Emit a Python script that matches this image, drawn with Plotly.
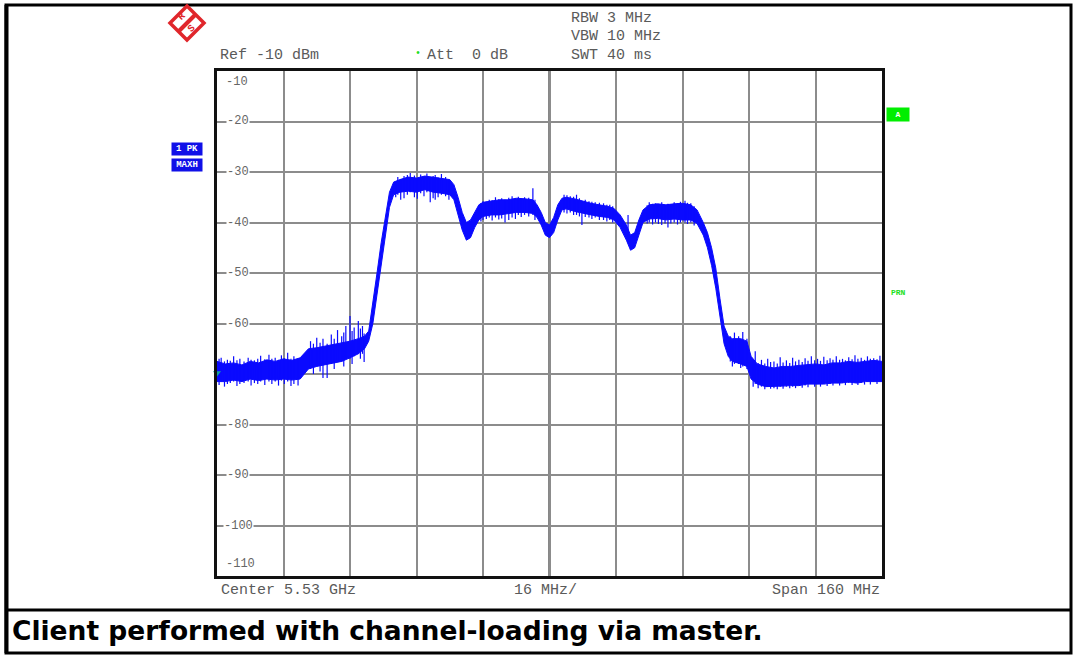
import plotly.graph_objects as go

# ---------------- data (frequency offset from 5.53 GHz centre, MHz; level dBm) ----------------
freq = [-80, -78, -76, -74, -72, -70, -68, -66, -64, -62, -60, -58, -56, -54, -52, -50, -48, -46,
        -44.5, -43.5, -42.5, -41.5, -40.5, -39.5, -38.5, -37.5, -36, -34, -32, -30, -28, -26, -24,
        -23, -22, -21, -20, -19, -18, -17, -16, -14, -12, -10, -8, -6, -4, -3, -2, -1, 0, 1, 2, 3,
        4, 6, 8, 10, 12, 14, 15.5, 17, 18.5, 19.5, 20.5, 21.5, 22.5, 24, 26, 28, 30, 32, 34, 35.5,
        37, 38, 39, 40, 41, 42, 43, 44, 46, 47.5, 48.5, 50, 52, 54, 56, 58, 60, 62, 64, 66, 68, 70,
        72, 74, 76, 78, 80]
level_max = [-67.5, -68, -67.8, -68.2, -67.5, -67.8, -67.2, -67.5, -67, -67.3, -66.8, -65, -64.8,
             -64.5, -64.2, -63.8, -63.5, -63, -62.5, -61.5, -56, -50, -44, -38.5, -34, -32, -31.5,
             -31, -31.2, -30.8, -31, -31.2, -31.5, -32.5, -35, -38, -40, -39.5, -38, -36.5, -36,
             -35.8, -35.5, -35.5, -35.2, -35.3, -35.5, -36.5, -38, -40, -40.5, -39, -36.5, -35.2,
             -35, -35.3, -35.8, -36.2, -36.5, -36.8, -37.2, -38.5, -40.5, -42.5, -42, -39.5, -37.5,
             -36.5, -36.3, -36.5, -36.3, -36.2, -36.5, -37.5, -40, -42, -45, -49, -55, -60.5,
             -62.5, -63, -63, -63.5, -66.5, -68, -68.5, -68.8, -68.5, -68.5, -68.3, -68.2, -68,
             -68.2, -67.8, -67.8, -67.5, -67.7, -67.5, -67.3, -67.5]
level_min = [-71.5, -71.5, -71.2, -71.5, -71, -71.3, -71, -71.2, -71, -71.2, -71, -69, -68.5,
             -68.2, -67.8, -67.5, -66.8, -66, -65, -63.5, -60, -54, -48, -42, -37, -34.5, -34,
             -33.8, -34, -33.5, -34, -34.2, -34.5, -35.5, -38.5, -41.5, -43.5, -43, -41, -39.5,
             -38.8, -38.5, -38.5, -38.2, -38, -38, -38.2, -39, -40.5, -42.5, -43, -42, -39.5,
             -37.5, -37.3, -37.8, -38.2, -38.5, -38.8, -39, -39.5, -41, -43.5, -45.5, -45, -42.5,
             -40, -39.3, -39.2, -39.5, -39.3, -39.5, -39.5, -40.2, -42.5, -45, -48.5, -53, -59,
             -64, -66.5, -67.5, -68, -68.5, -71, -72, -72.5, -72.5, -72.4, -72.3, -72.3, -72,
             -72, -72, -71.8, -71.8, -71.6, -71.8, -71.5, -71.5, -71.5]

# individual peak-hold spikes: frequency, bottom, top
spike_f = [-79.5, -79, -78.2, -77.5, -76.8, -76, -75.2, -74.5, -73.5, -72.5, -71.8, -71, -70.2,
           -69.5, -68.5, -67.5, -66.8, -66, -65.2, -64.5, -63.8, -63, -62.2, -61.5, -60.5,
           -57.5, -56.8, -56, -55.2, -54.5, -53.5, -52.5, -51.8, -51, -50, -49.5, -49, -48,
           -47.5, -47, -46, -45.5, -45, -44.6,
           -37, -36.5, -35.8, -35, -34.2, -33.5, -32.5, -31.8, -31, -30.2, -29.5, -28.7, -28,
           -27.5, -26.8, -26, -25, -24.2,
           -16.5, -16, -15.2, -14.5, -13.8, -13, -12.2, -11.5, -10.7, -9.8, -9, -8.2, -7.5,
           -6.8, -6, -5, -4, -3.5,
           3.5, 4.2, 5, 5.8, 6.5, 7.2, 7.8, 8.6, 9.5, 10.2, 11, 12, 13, 13.8, 14.5, 15.2, 18.9,
           23.5, 24, 24.8, 25.5, 26.2, 27, 27.8, 28.5, 29.2, 30, 30.8, 31.5, 32.6, 33.2, 34,
           34.8,
           43.5, 44, 44.5, 45.5, 46, 46.5, 47.5,
           49, 49.5, 50.2, 51, 51.8, 52.5, 53.2, 54, 54.8, 55.5, 56.2, 57, 57.8, 58.5, 59.2, 60,
           60.8, 61.5, 62.2, 63, 63.8, 64.5, 65.2, 66, 66.8, 67.5, 68.2, 69, 69.8, 70.5, 71.2,
           72, 72.8, 73.5, 74.2, 75, 75.8, 76.5, 77.2, 78, 78.8, 79.5]
spike_lo = [-72.2, -71.5, -72.5, -72, -71.8, -71.5, -72.4, -72, -71.8, -71.5, -72.3, -71.8, -72,
            -71.5, -72.2, -71.5, -72, -71.5, -72.3, -71.3, -72, -71.5, -72.4, -72, -72.3,
            -69, -70, -68.5, -69.5, -70.8, -70.8, -68, -69, -67.5, -67.5, -68.5, -67, -67,
            -68, -66.5, -66, -67, -66, -67.6,
            -35, -34.5, -35.5, -35.2, -34.5, -34, -35, -35.3, -34.2, -34.8, -34, -36, -35.2,
            -35.5, -35, -34.5, -34.8, -35.5,
            -39.8, -39.5, -39.3, -39, -39.6, -39, -39.4, -39.2, -40, -39.5, -39, -39.3, -38.5,
            -38.9, -38.5, -38.8, -38.5, -39.5,
            -38, -38.2, -38, -38.5, -38.5, -38.8, -40.5, -38.9, -39, -39.3, -39, -39.5, -39.5,
            -39.8, -39.5, -40, -44,
            -40.2, -40, -40.4, -40, -40.3, -40.5, -40.2, -41, -40.2, -40, -40.4, -40, -40,
            -40.3, -40, -40.6,
            -67.5, -68.5, -68, -68, -68.8, -68.5, -69,
            -72.5, -72, -72.8, -72.5, -73, -72.5, -72.9, -72.8, -73, -72.5, -72.9, -72.5, -72.8,
            -72.5, -72.8, -72.3, -72.7, -72.3, -72.6, -72, -72.5, -72, -72.5, -72, -72.4, -72,
            -72.3, -71.8, -72.3, -71.8, -72.2, -71.8, -72.2, -71.8, -72.2, -71.8, -72.1, -71.5,
            -72.1, -71.6, -72, -71.5]
spike_hi = [-67, -66.8, -67.5, -67.2, -67.4, -66.5, -67.3, -67, -67.5, -66.8, -67.2, -67.3, -67,
            -66.4, -67.1, -66.2, -67, -66.8, -67.2, -66.3, -66.9, -65.8, -67, -66.5, -67,
            -63.5, -64, -62.8, -63.8, -63, -64, -62.2, -63, -61.3, -62.5, -61.8, -60.5, -58.5,
            -61.5, -60.8, -59.5, -61, -60.5, -62,
            -32, -31, -31.5, -30.8, -30.6, -30.2, -30.7, -31.2, -30.5, -30.9, -30.3, -31.5,
            -30.8, -30.6, -31.1, -30.4, -31, -31.6,
            -36.2, -35.8, -35.9, -35.5, -35.6, -35, -35.4, -35.2, -35.5, -35.1, -34.8, -35.2,
            -34.9, -35.3, -35, -35.1, -33.2, -35.5,
            -34.5, -34.6, -34.8, -34.9, -34.5, -35.2, -35.8, -35.5, -35.8, -35.9, -36, -36.1,
            -36.2, -36.5, -36.5, -36.8, -38.5,
            -36.6, -36, -36.3, -36.2, -36.4, -36, -36.5, -36.3, -36.4, -36, -36.2, -35.9, -35.7,
            -36.1, -36.2, -36.8,
            -62.5, -63.5, -61.8, -62.5, -63.2, -61.7, -63,
            -67.5, -65.5, -67.8, -67.2, -67.9, -67, -67.6, -67.5, -67.9, -66.7, -67.7, -67.3,
            -67.8, -66.8, -67.5, -67.2, -67.6, -66.9, -67.4, -66.5, -67.3, -67, -67.4, -66.6,
            -67.3, -66.9, -67.2, -66.5, -67.2, -67, -67.3, -66.7, -67.1, -66.3, -67, -66.8,
            -67.2, -66.5, -67, -66.9, -67.1, -66.4]

y_ticks = [-10, -20, -30, -40, -50, -60, -70, -80, -90, -100, -110]
x_grid = [-80, -64, -48, -32, -16, 0, 16, 32, 48, 64, 80]

# ---------------- geometry helpers (page pixels -> paper) ----------------
W, H = 1075, 655
L, R, T, B = 217, 882, 71, 576


def px(x):
    return (x - L) / (R - L)


def py(y):
    return (B - y) / (B - T)


TRACE = "#0a0aff"
MONO = "Liberation Mono"
GREY = "#5a5a5a"

fig = go.Figure()

fig.add_trace(go.Scatter(x=freq, y=level_min, mode="lines",
                         line=dict(color=TRACE, width=1), hoverinfo="skip", showlegend=False))
fig.add_trace(go.Scatter(x=freq, y=level_max, mode="lines", fill="tonexty",
                         fillcolor=TRACE, line=dict(color=TRACE, width=1),
                         hoverinfo="skip", showlegend=False))

sx, sy = [], []
for f, lo, hi in zip(spike_f, spike_lo, spike_hi):
    sx += [f, f, None]
    sy += [lo, hi, None]
fig.add_trace(go.Scatter(x=sx, y=sy, mode="lines", line=dict(color=TRACE, width=1.2),
                         hoverinfo="skip", showlegend=False))

# reference-level marker on the left edge
fig.add_trace(go.Scatter(x=[-80], y=[-69.8], mode="markers", cliponaxis=False,
                         marker=dict(symbol="triangle-down", size=7, color="#12a0a0"),
                         hoverinfo="skip", showlegend=False))

shapes = []
# centre line (thick black)
shapes.append(dict(type="line", xref="x", yref="paper", x0=0, x1=0, y0=0, y1=1,
                   line=dict(color="#111", width=2), layer="below"))
# outer frame + caption separator
shapes.append(dict(type="rect", xref="paper", yref="paper", x0=px(6), x1=px(1071),
                   y0=py(653), y1=py(5), line=dict(color="#000", width=3)))
shapes.append(dict(type="line", xref="paper", yref="paper", x0=px(6), x1=px(1071),
                   y0=py(610), y1=py(610), line=dict(color="#000", width=3)))
shapes.append(dict(type="line", xref="paper", yref="paper", x0=px(6.5), x1=px(6.5),
                   y0=py(653), y1=py(5), line=dict(color="#000", width=4)))
# R&S logo
cx, cy, h = 187, 23, 17
shapes.append(dict(type="path", xref="paper", yref="paper",
                   path=(f"M {px(cx)} {py(cy - h)} L {px(cx + h)} {py(cy)} "
                         f"L {px(cx)} {py(cy + h)} L {px(cx - h)} {py(cy)} Z"),
                   line=dict(color="#e0262b", width=3.5), fillcolor="white"))
shapes.append(dict(type="line", xref="paper", yref="paper",
                   x0=px(cx - h / 2), y0=py(cy + h / 2), x1=px(cx + h / 2), y1=py(cy - h / 2),
                   line=dict(color="#e0262b", width=4)))

ann = []


def text(x, y, s, size=15, color=GREY, family=MONO, xanchor="left", **kw):
    ann.append(dict(xref="paper", yref="paper", x=px(x), y=py(y), text=s, showarrow=False,
                    xanchor=xanchor, yanchor="middle",
                    font=dict(family=family, size=size, color=color), **kw))


text(182, 17, "<b>R</b>", size=10, color="#e0262b", xanchor="center", textangle=-45)
text(192, 29, "<b>S</b>", size=10, color="#e0262b", xanchor="center", textangle=-45)

text(569, 19, "RBW 3 MHz")
text(569, 37, "VBW 10 MHz")
text(569, 56, "SWT 40 ms")
text(218, 56, "Ref -10 dBm")
text(425, 56, "Att  0 dB")
text(418, 54, "•", size=10, color="#22dd22", xanchor="center")
text(219, 590, "Center 5.53 GHz")
text(545, 590, "16 MHz/", xanchor="center")
text(882, 590, "Span 160 MHz", xanchor="right")

text(187, 149, "<b>1 PK</b>", size=9, color="white", xanchor="center",
     bgcolor="#1010e8", borderpad=1, width=28)
text(187, 165, "<b>MAXH</b>", size=9, color="white", xanchor="center",
     bgcolor="#1010e8", borderpad=1, width=28)
text(898, 115, "<b>A</b>", size=8, color="white", xanchor="center",
     bgcolor="#00ee00", borderpad=2, width=18)
text(898, 292, "<b>PRN</b>", size=8, color="#22e022", xanchor="center")

text(10, 630, "<b>Client performed with channel-loading via master.</b>", size=26.5,
     color="#000", family="DejaVu Sans")

# y-axis labels drawn inside the grid, as on the analyser screen
# (the -70 label is hidden under the trace on the original screen)
for v in y_ticks:
    yy = T + (-10 - v) * (B - T) / 100
    if v == -10:
        text(237, yy + 11, "-10", size=12, color="#666", xanchor="center")
    elif v == -110:
        text(240, yy - 12, "-110", size=12, color="#666", xanchor="center")
    elif v != -70:
        text(238, yy, str(v), size=12, color="#666", xanchor="center",
             bgcolor="white", borderpad=0)

fig.update_layout(
    width=W, height=H, autosize=False,
    margin=dict(l=L, r=W - R, t=T, b=H - B, pad=0),
    paper_bgcolor="white", plot_bgcolor="white",
    shapes=shapes, annotations=ann, showlegend=False,
    xaxis=dict(range=[-80, 80], tickvals=x_grid, showticklabels=False, ticks="",
               showgrid=True, gridcolor="#8c8c8c", gridwidth=1.5, zeroline=False,
               showline=True, mirror=True, linecolor="#111", linewidth=2.5, fixedrange=True),
    yaxis=dict(range=[-110, -10], tickvals=y_ticks, showticklabels=False, ticks="",
               showgrid=True, gridcolor="#8c8c8c", gridwidth=1.5, zeroline=False,
               showline=True, mirror=True, linecolor="#111", linewidth=2.5, fixedrange=True),
)

# place the figure flush with the page's top-left corner (remove default body margin)
fig.write_html("out.html", config=dict(displayModeBar=False),
               post_script="document.body.style.margin='0px';document.body.style.overflow='hidden';")
